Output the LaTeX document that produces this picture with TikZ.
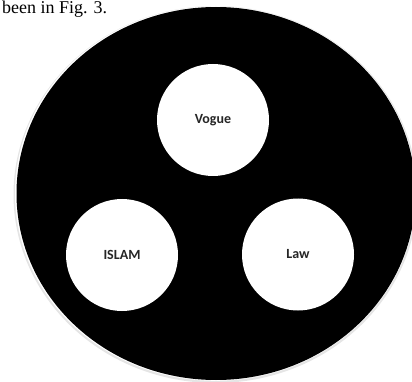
\documentclass[tikz,border=0pt]{standalone}
\usepackage{fontspec}
\newfontfamily\labelfont{Carlito}
\newfontfamily\capfont{Liberation Serif}
\begin{document}
\begin{tikzpicture}[x=1pt,y=-1pt,
  topic/.style={circle,fill=white,draw=none,minimum size=112pt,inner sep=0pt,
    font=\labelfont\fontsize{14pt}{16pt}\selectfont\bfseries,text=black!85}]
\useasboundingbox (0,0) rectangle (412,382);
\clip (0,0) rectangle (412,382);
\fill[black!10] (215.5,194.5) ellipse [x radius=202, y radius=188.5];
\fill[white] (215.5,193.5) ellipse [x radius=200.5, y radius=187.3];
\fill[black] (216,193.5) ellipse [x radius=199.5, y radius=186.5];
\node[anchor=base west,font=\capfont\fontsize{18pt}{20pt}\selectfont,inner sep=0pt] (cap) at (2,14) {been in Fig. 3.};
\node[topic] (vogue) at (213,120) {Vogue};
\node[topic] (islam) at (122,255) {ISLAM};
\node[topic] (law) at (298,254.5) {Law};
\end{tikzpicture}
\end{document}
